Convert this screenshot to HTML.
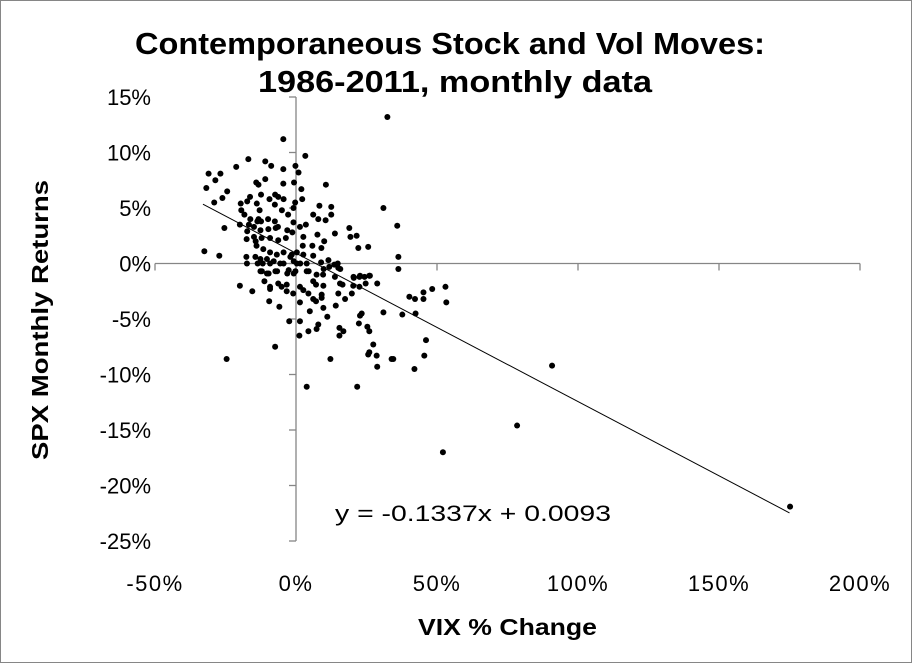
<!DOCTYPE html>
<html><head><meta charset="utf-8"><style>
html,body{margin:0;padding:0;background:#fff;}
svg{display:block;font-family:"Liberation Sans",sans-serif;}
</style></head><body>
<svg id="chart" width="912" height="663" viewBox="0 0 912 663">
<rect x="0.5" y="0.5" width="911" height="662" fill="#fff" stroke="#868686"/>
<text x="135" y="54" textLength="630" lengthAdjust="spacingAndGlyphs" font-size="31" font-weight="bold">Contemporaneous Stock and Vol Moves:</text>
<text x="258" y="92" textLength="394" lengthAdjust="spacingAndGlyphs" font-size="31" font-weight="bold">1986-2011, monthly data</text>
<text transform="translate(48,460) rotate(-90)" textLength="280" lengthAdjust="spacingAndGlyphs" font-size="23" font-weight="bold">SPX Monthly Returns</text>
<text x="418" y="635" textLength="179" lengthAdjust="spacingAndGlyphs" font-size="23" font-weight="bold">VIX % Change</text>
<g id="axes"></g>
<g id="marks"></g>
<text x="335" y="521" textLength="276" lengthAdjust="spacingAndGlyphs" font-size="22">y = -0.1337x + 0.0093</text>
</svg>
<script>
const xTicks = [-50, 0, 50, 100, 150, 200];
const yTicks = [15, 10, 5, 0, -5, -10, -15, -20, -25];
const slope = -0.1337;
const intercept = 0.93;
const trendRange = [-33, 175];
const vixChange = [-4.5,3.3,-16.9,-10.9,-8.8,-21.2,-4.5,-0.2,-31,-26.8,-28.6,-31.8,-14.1,-13.3,-10.9,-4.5,-0.7,0.9,10.6,1.9,-24.4,-26.1,-29,-12.4,-9.4,-7.4,-6.3,-4.4,2.2,-16.3,-17.3,-19.6,-13.9,-7.5,-5.0,-0.9,-0.3,-12.9,8.3,12.5,-19.4,-18.3,-16.2,-13.3,-13.7,-12.4,-9.9,-7.5,-2.8,-0.9,6.1,7.9,10.5,12.5,18.9,19.3,21.5,13.8,-25.4,-19.9,-16.7,-14.9,-12.6,-9.8,-7.2,-6.4,-3.1,-1.3,1.4,3.5,-17.3,-14.9,-17.5,-14.3,-14.0,-12.2,-9.2,-6.3,-3.6,2.6,2.4,5.8,7.6,10,9.0,-11.6,-9.2,-6.8,-4.4,-1.5,0.3,2.6,-14.4,-12.6,-10.3,-7.9,-5.6,-2.0,-0.8,1.5,-32.5,-27.2,-17.6,-17.4,22.1,25.6,6.1,8.9,11.5,14.8,13.6,-13.6,-11.8,-9.2,-4.4,0.3,3.8,15.0,20.4,22.7,26.0,-12.6,-10.3,-7.3,-3.1,-0.8,3.8,7.3,9.6,36.3,-12.1,-9.7,-6.7,-2.6,-0.2,4.5,9.8,11.8,15.7,20.5,22.5,24.3,26.2,-19.9,-15.5,-11.2,-9.2,-9.2,-6.3,-5.1,-3.3,-3.3,-1.0,1.4,2.6,4.4,6.1,7.1,9.7,9.1,6.1,7.1,9.1,13.8,15.6,16.5,15.0,19.8,20.3,22.5,24.7,28.8,-9.5,-5.9,1.4,4.9,9.7,11.1,14.1,17.4,-2.4,1.4,7.9,7.3,4.4,1.2,15.4,16.8,15.4,22.7,23.3,22.3,25.3,26,27.4,26,25.6,28.6,28.8,31,37.7,42.4,40.2,42.2,45.2,45.2,48.3,53,53.3,46.1,45.5,42,33.9,34.5,-7.4,-24.6,12.2,3.8,21.7,32.4,31,35.9,36.3,52.1,78.4,90.8,175.2];
const spxReturn = [11.2,9.7,9.4,9.2,8.8,8.7,8.5,8.8,8.1,8.1,7.5,6.8,7.3,7.1,7.6,7.2,7.3,8.2,7.1,6.7,6.5,5.9,5.5,6.2,5.8,6.2,6.0,5.8,5.8,6.0,5.6,5.4,5.4,5.3,4.8,5.0,5.5,4.8,5.2,5.1,4.8,4.4,4.0,4.0,3.8,3.8,4.0,3.8,4.4,3.7,4.4,4.0,3.9,4.4,3.2,2.4,2.5,2.7,3.2,3.5,3.5,3.3,3.0,3.1,3.2,3.3,3.0,2.8,3.3,3.5,2.9,2.4,2.2,2.0,1.6,2.3,2.3,2.1,2.3,2.4,1.6,1.6,2.6,2.0,1.4,1.3,1.0,0.8,1.0,0.8,1.0,0.8,0.6,0.4,0.4,0.2,0.0,0.6,0.2,0.0,1.1,0.7,0.6,0.0,1.4,1.5,0.7,0.1,0.3,0.0,-0.1,0,0,0,0,0,0,-0.4,-1.2,-1.1,-1.1,-0.7,-0.9,-0.7,-0.9,-0.9,-0.7,-1.0,-1.0,-0.5,-0.7,-0.9,-0.7,-0.6,-0.7,-0.7,-0.5,-0.3,-0.5,-1.3,-1.2,-1.2,-1.1,-2.0,-2.5,-1.6,-2.1,-2.3,-1.8,-2.1,-1.9,-2.5,-2.7,-2.1,-2.4,-2.7,-1.6,-1.9,-2.0,-2.8,-3.2,-3.4,-3.1,-1.2,-1.8,-1.9,-2.7,-2.7,-2.0,-2.1,-1.8,-1.8,-3.4,-3.9,-3.5,-4.3,-4.0,-4.8,-3.8,-3.2,-5.2,-5.2,-5.5,-5.9,-6.1,-6.5,-5.8,-6.1,-6.5,-4.7,-4.5,-5.4,-5.7,-6.1,-7.3,-8.0,-8.2,-8.3,-9.3,-4.4,-4.6,-4.5,-3.0,-3.2,-2.6,-3.2,-2.3,-2.1,-3.5,-6.9,-8.3,-9.5,-8.6,-8.6,-7.5,-8.6,-8.6,-11.1,-11.1,13.2,5.0,3.4,0.6,-17.0,-14.6,-9.2,-21.9];

const NS = "http://www.w3.org/2000/svg";
const xMin=-50, xMax=200, yMin=-25, yMax=15;
const L=155, R=860, T=97, B=541;
function sx(v){return L+(v-xMin)/(xMax-xMin)*(R-L);}
function sy(v){return B-(v-yMin)/(yMax-yMin)*(B-T);}
function mk(tag, attrs, parent){const e=document.createElementNS(NS,tag);for(const k in attrs)e.setAttribute(k,attrs[k]);parent.appendChild(e);return e;}
const axes=document.getElementById('axes');
const marks=document.getElementById('marks');
const x0=sx(0), y0=sy(0);
let ln=mk('line',{x1:x0,y1:T,x2:x0,y2:B,stroke:'#868686','stroke-width':1.3},axes);


ln=mk('line',{x1:L,y1:y0,x2:R,y2:y0,stroke:'#868686','stroke-width':1.3},axes);


yTicks.forEach(v=>{
  const y=sy(v);
  const t=mk('line',{x1:x0-7,y1:y,x2:x0,y2:y,stroke:'#868686','stroke-width':1.3},axes);
  
  
  const lb=mk('text',{x:151,y:y+8,'text-anchor':'end','font-size':22},axes);
  lb.textContent=v+'%';
  
  
});
xTicks.forEach(v=>{
  const x=sx(v);
  const t=mk('line',{x1:x,y1:y0,x2:x,y2:y0+7,stroke:'#868686','stroke-width':1.3},axes);
  
  
  const lb=mk('text',{x:x,y:591,'text-anchor':'middle','font-size':22,'letter-spacing':1.5},axes);
  lb.textContent=v+'%';
  
  
});
const tl=mk('line',{x1:sx(trendRange[0]),y1:sy(slope*trendRange[0]+intercept),x2:sx(trendRange[1]),y2:sy(slope*trendRange[1]+intercept),stroke:'#000','stroke-width':1},marks);


vixChange.forEach((v,i)=>{
  const c=mk('circle',{cx:sx(v),cy:sy(spxReturn[i]),r:3,fill:'#000'},marks);
  
  
});
</script>
</body></html>
